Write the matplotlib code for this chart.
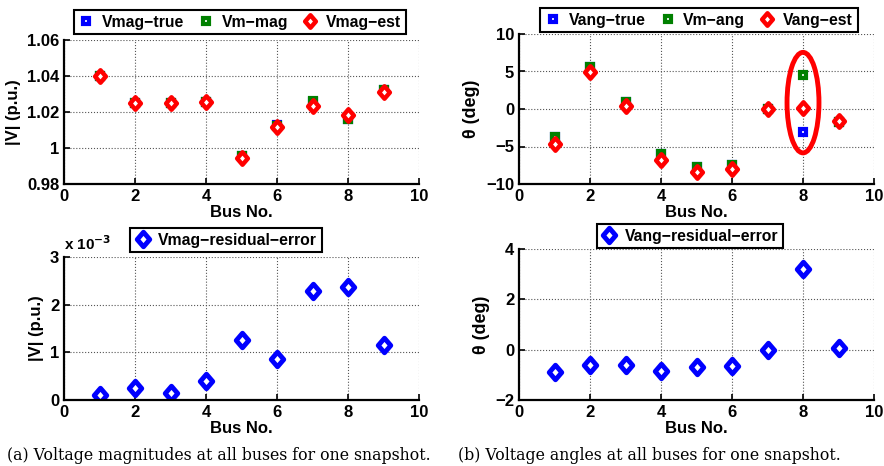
import numpy as np
import matplotlib
matplotlib.use("Agg")
import matplotlib.pyplot as plt
from matplotlib.patches import Ellipse
from matplotlib.path import Path

bus = [1, 2, 3, 4, 5, 6, 7, 8, 9]

# voltage magnitudes (p.u.)
vmag_true = [1.040, 1.025, 1.025, 1.0258, 0.9956, 1.0127, 1.0258, 1.0159, 1.0324]
vm_mag = [1.040, 1.025, 1.025, 1.0258, 0.9958, 1.0125, 1.0260, 1.0160, 1.0324]
vmag_est = [1.0399, 1.0248, 1.0249, 1.0254, 0.9943, 1.0118, 1.0235, 1.0183, 1.0312]
vmag_res = [0.10, 0.25, 0.14, 0.40, 1.26, 0.86, 2.29, 2.37, 1.16]  # x 1e-3

# voltage angles (deg)
vang_true = [-3.75, 5.55, 0.95, -6.0, -7.75, -7.4, -0.05, -3.07, -1.73]
vm_ang = [-3.75, 5.55, 0.95, -6.0, -7.75, -7.4, -0.05, 4.5, -1.73]
vang_est = [-4.65, 4.93, 0.35, -6.83, -8.45, -8.06, -0.04, 0.18, -1.66]
vang_res = [-0.90, -0.62, -0.60, -0.83, -0.68, -0.66, 0.0, 3.22, 0.07]

captions = ["(a) Voltage magnitudes at all buses for one snapshot.",
            "(b) Voltage angles at all buses for one snapshot."]

plt.rcParams['font.family'] = ['Liberation Sans', 'DejaVu Sans']
plt.rcParams['font.weight'] = 'bold'
plt.rcParams['font.size'] = 11

W, H = 884, 466
fig = plt.figure(figsize=(W / 100, H / 100), dpi=100)


def box(l, t, r, b):
    return [l / W, 1 - b / H, (r - l) / W, (b - t) / H]


# matlab-like diamond, a bit taller than wide
diamond = Path([(0, 1), (0.86, 0), (0, -1), (-0.86, 0), (0, 1)],
               [Path.MOVETO, Path.LINETO, Path.LINETO, Path.LINETO, Path.CLOSEPOLY])

sq = dict(marker='s', linestyle='none', markersize=5, markeredgewidth=3,
          markerfacecolor='white')
dm = dict(marker=diamond, linestyle='none', markersize=9, markeredgewidth=3.2,
          markerfacecolor='white')
dm_big = dict(marker=diamond, linestyle='none', markersize=10.5, markeredgewidth=3.5,
              markerfacecolor='white')


def style(ax, ylim, yticks):
    ax.set_xlim(0, 10)
    ax.set_xticks([0, 2, 4, 6, 8, 10])
    ax.set_ylim(*ylim)
    ax.set_yticks(yticks)
    ax.grid(True, linestyle=':', color='#555555', linewidth=0.8)
    ax.spines['top'].set_visible(False)
    ax.spines['right'].set_visible(False)
    ax.spines['left'].set_linewidth(1.6)
    ax.spines['bottom'].set_linewidth(1.6)
    ax.tick_params(direction='in', length=4, width=1.2, labelsize=12)
    for lab in ax.get_xticklabels() + ax.get_yticklabels():
        lab.set_fontweight('bold')
    ax.set_xlabel("Bus No.", fontsize=12, fontweight='bold', labelpad=1)


def legend(ax, cx, cy, ncol):
    leg = ax.legend(loc='center', bbox_to_anchor=(cx / W, 1 - cy / H),
                    bbox_transform=fig.transFigure, ncol=ncol, fancybox=False,
                    edgecolor='black', framealpha=1, borderpad=0.3,
                    handletextpad=0.5, columnspacing=0.9, handlelength=1.0,
                    prop={'weight': 'bold', 'size': 11.3})
    leg.get_frame().set_linewidth(1.5)


# top-left
ax1 = fig.add_axes(box(64, 40, 419, 184))
ax1.plot(bus, vmag_true, color='blue', label='Vmag\u2212true', **sq)
ax1.plot(bus, vm_mag, color='green', label='Vm\u2212mag', **sq)
ax1.plot(bus, vmag_est, color='red', label='Vmag\u2212est', **dm)
style(ax1, (0.98, 1.06), [0.98, 1.0, 1.02, 1.04, 1.06])
ax1.set_yticklabels(['0.98', '1', '1.02', '1.04', '1.06'])
ax1.set_ylabel("|V| (p.u.)", fontsize=12, fontweight='bold')
legend(ax1, 240, 22, 3)

# top-right
ax2 = fig.add_axes(box(519, 34, 874, 184))
ax2.plot(bus, vang_true, color='blue', label='Vang\u2212true', **sq)
ax2.plot(bus, vm_ang, color='green', label='Vm\u2212ang', **sq)
ax2.plot(bus, vang_est, color='red', label='Vang\u2212est', **dm)
style(ax2, (-10, 10), [-10, -5, 0, 5, 10])
ax2.set_ylabel("\u03b8 (deg)", fontsize=13, fontweight='bold')
ax2.add_patch(Ellipse((8, 0.85), 0.9, 13.4, fill=False, edgecolor='red',
                      linewidth=3.5, zorder=5))
legend(ax2, 699, 20, 3)

# bottom-left
ax3 = fig.add_axes(box(64, 257, 419, 400))
ax3.plot(bus, np.array(vmag_res) * 1e-3, color='blue',
         label='Vmag\u2212residual\u2212error', **dm_big)
style(ax3, (0, 0.003), [0, 0.001, 0.002, 0.003])
ax3.set_yticklabels(['0', '1', '2', '3'])
ax3.set_ylabel("|V| (p.u.)", fontsize=12, fontweight='bold')
ax3.text(0.0, 1.03, "x 10$^{-3}$", transform=ax3.transAxes, fontsize=11,
         fontweight='bold', va='bottom')
legend(ax3, 226, 240, 1)

# bottom-right
ax4 = fig.add_axes(box(519, 249, 874, 400))
ax4.plot(bus, vang_res, color='blue', label='Vang\u2212residual\u2212error', **dm_big)
style(ax4, (-2, 4), [-2, 0, 2, 4])
ax4.set_ylabel("\u03b8 (deg)", fontsize=13, fontweight='bold')
legend(ax4, 690, 236, 1)

fig.text(7 / W, 1 - 455 / H, captions[0], family='DejaVu Serif',
         fontweight='normal', fontsize=11.3, va='center')
fig.text(458 / W, 1 - 455 / H, captions[1], family='DejaVu Serif',
         fontweight='normal', fontsize=11.3, va='center')

fig.savefig("out.png", dpi=100)
